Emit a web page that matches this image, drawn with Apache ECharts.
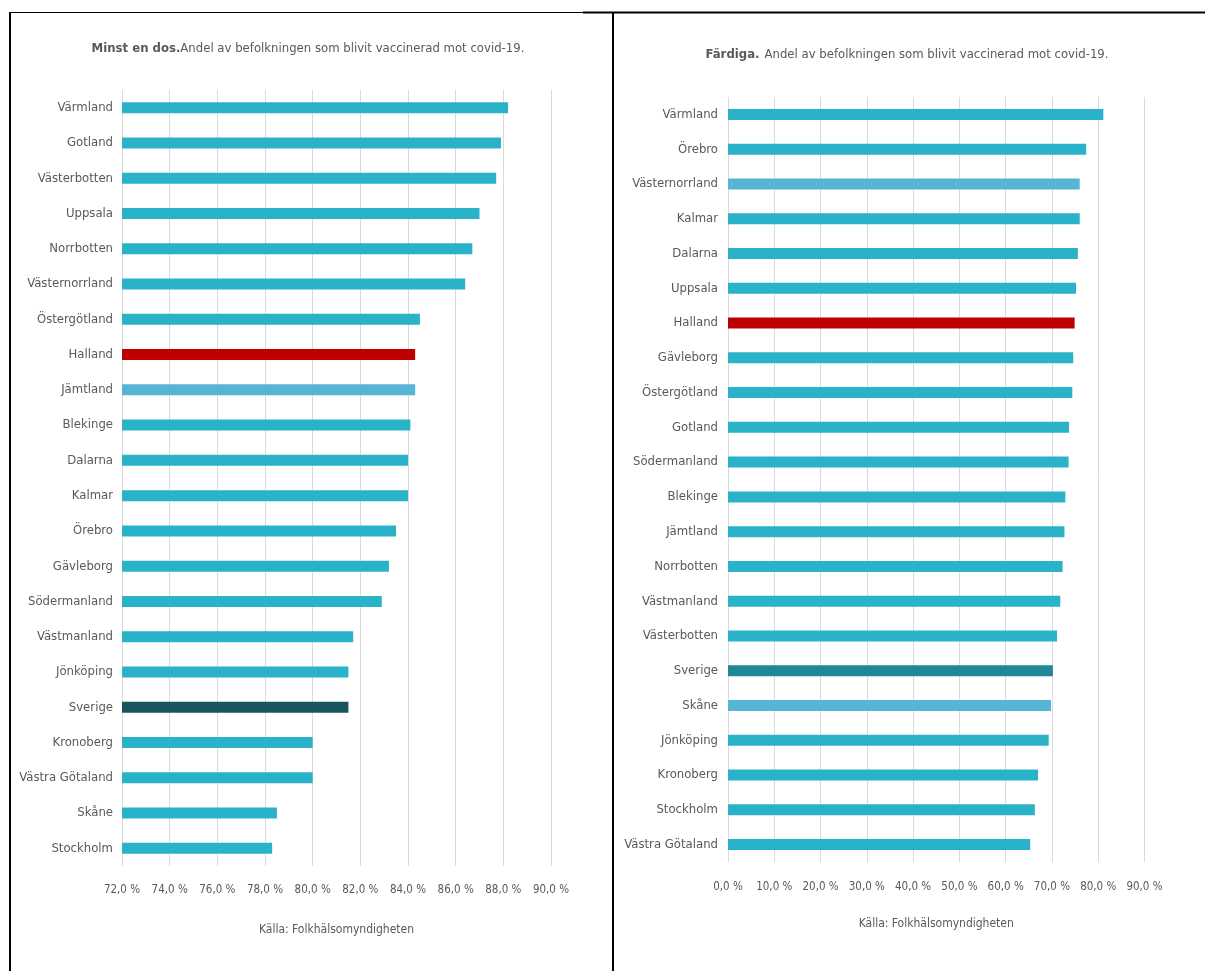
<!DOCTYPE html>
<html>
<head>
<meta charset="utf-8">
<script src="https://cdn.jsdelivr.net/npm/echarts@6/dist/echarts.min.js"></script>
<style>
  html, body { margin: 0; padding: 0; background: #fff; }
  #main { width: 1205px; height: 971px; }
</style>
</head>
<body>
<div id="main"></div>
<script>
// Minst en dos (vänster diagram)
var dos1Lan = ['Värmland', 'Gotland', 'Västerbotten', 'Uppsala', 'Norrbotten', 'Västernorrland',
  'Östergötland', 'Halland', 'Jämtland', 'Blekinge', 'Dalarna', 'Kalmar', 'Örebro', 'Gävleborg',
  'Södermanland', 'Västmanland', 'Jönköping', 'Sverige', 'Kronoberg', 'Västra Götaland', 'Skåne', 'Stockholm']
var dos1Varden = [88.2, 87.9, 87.7, 87.0, 86.7, 86.4, 84.5, 84.3, 84.3, 84.1, 84.0, 84.0, 83.5, 83.2,
  82.9, 81.7, 81.5, 81.5, 80.0, 80.0, 78.5, 78.3]

// Färdiga (höger diagram)
var fardigaLan = ['Värmland', 'Örebro', 'Västernorrland', 'Kalmar', 'Dalarna', 'Uppsala', 'Halland',
  'Gävleborg', 'Östergötland', 'Gotland', 'Södermanland', 'Blekinge', 'Jämtland', 'Norrbotten',
  'Västmanland', 'Västerbotten', 'Sverige', 'Skåne', 'Jönköping', 'Kronoberg', 'Stockholm', 'Västra Götaland']
var fardigaVarden = [81.1, 77.4, 76.0, 76.0, 75.6, 75.2, 74.9, 74.6, 74.4, 73.7, 73.6, 72.9, 72.7, 72.3,
  71.8, 71.1, 70.2, 69.8, 69.3, 67.0, 66.3, 65.3]

var FONT = "'Liberation Sans Narrow', 'DejaVu Sans Condensed', 'Liberation Sans', sans-serif"
var TEXT = '#595959'
var TEAL = '#2AB3C8'

// färger för utmärkta staplar
var leftColors = { 'Halland': '#C00000', 'Jämtland': '#56B5D5', 'Sverige': '#17565F' }
var rightColors = { 'Halland': '#C00000', 'Västernorrland': '#56B5D5', 'Skåne': '#56B5D5', 'Sverige': '#1F8896' }

function toData(names, values, colors) {
  return values.map(function (v, i) {
    return { value: v, itemStyle: { color: colors[names[i]] || TEAL } }
  })
}

function pct(v) {
  return v.toFixed(1).replace('.', ',') + ' %'
}

var myChart = echarts.init(document.getElementById('main'))

var xAxisBase = {
  type: 'value',
  axisLine: { show: false },
  axisTick: { show: false },
  splitLine: { lineStyle: { color: '#DADADA', width: 1 } },
  axisLabel: { color: TEXT, fontFamily: FONT, fontSize: 11.5, formatter: pct },
  nameLocation: 'middle',
  nameTextStyle: { color: TEXT, fontFamily: FONT, fontSize: 12 }
}

var yAxisBase = {
  type: 'category',
  inverse: true,
  axisLine: { show: false },
  axisTick: { show: false },
  axisLabel: { color: TEXT, fontFamily: FONT, fontSize: 13, margin: 9 }
}

var titleRich = {
  b: { fontWeight: 'bold', color: TEXT, fontFamily: FONT, fontSize: 13, lineHeight: 16 },
  n: { fontWeight: 'normal', color: TEXT, fontFamily: FONT, fontSize: 13, lineHeight: 16 }
}

var option = {
  backgroundColor: '#fff',
  animation: false,
  title: [
    {
      text: '{b|Minst en dos.}{n|Andel av befolkningen som blivit vaccinerad mot covid-19.}',
      left: 303, top: 36, textAlign: 'center',
      textStyle: { rich: titleRich }
    },
    {
      text: '{b|Färdiga.} {n|Andel av befolkningen som blivit vaccinerad mot covid-19.}',
      left: 902, top: 41, textAlign: 'center',
      textStyle: { rich: titleRich }
    }
  ],
  grid: [
    { left: 122, right: 654, top: 90, bottom: 105 },
    { left: 728, right: 60.5, top: 97, bottom: 109 }
  ],
  xAxis: [
    Object.assign({}, xAxisBase, {
      gridIndex: 0, min: 72, max: 90, interval: 2,
      name: 'Källa: Folkhälsomyndigheten', nameGap: 58,
      axisLabel: Object.assign({}, xAxisBase.axisLabel, { margin: 18 })
    }),
    Object.assign({}, xAxisBase, {
      gridIndex: 1, min: 0, max: 90, interval: 10,
      name: 'Källa: Folkhälsomyndigheten', nameGap: 56,
      axisLabel: Object.assign({}, xAxisBase.axisLabel, { margin: 19 })
    })
  ],
  yAxis: [
    Object.assign({}, yAxisBase, { gridIndex: 0, data: dos1Lan }),
    Object.assign({}, yAxisBase, { gridIndex: 1, data: fardigaLan,
      axisLabel: Object.assign({}, yAxisBase.axisLabel, { margin: 10 }) })
  ],
  series: [
    {
      name: 'Minst en dos',
      type: 'bar',
      xAxisIndex: 0, yAxisIndex: 0,
      barWidth: 11,
      data: toData(dos1Lan, dos1Varden, leftColors)
    },
    {
      name: 'Färdiga',
      type: 'bar',
      xAxisIndex: 1, yAxisIndex: 1,
      barWidth: 11,
      data: toData(fardigaLan, fardigaVarden, rightColors)
    }
  ],
  // ramar runt de två panelerna
  graphic: [
    { type: 'line', shape: { x1: 9, y1: 12.5, x2: 583, y2: 12.5 }, style: { stroke: '#000', lineWidth: 1 } },
    { type: 'line', shape: { x1: 583, y1: 12.5, x2: 1205, y2: 12.5 }, style: { stroke: '#000', lineWidth: 2 } },
    { type: 'line', shape: { x1: 10, y1: 12, x2: 10, y2: 971 }, style: { stroke: '#000', lineWidth: 2 } },
    { type: 'line', shape: { x1: 613, y1: 12, x2: 613, y2: 971 }, style: { stroke: '#000', lineWidth: 2 } }
  ]
}

myChart.setOption(option)
</script>
</body>
</html>
